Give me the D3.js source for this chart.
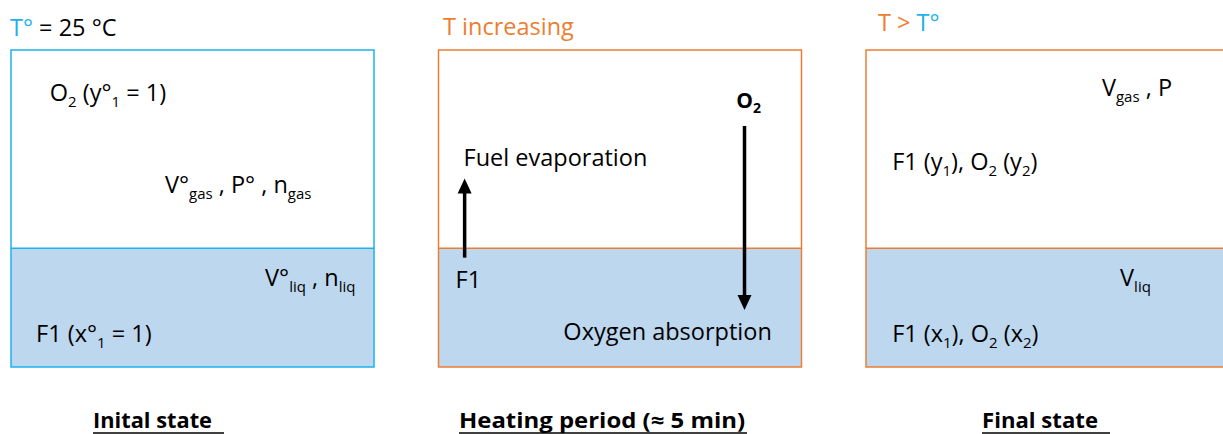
<!DOCTYPE html>
<html>
<head>
<meta charset="utf-8">
<script src="https://cdn.jsdelivr.net/npm/d3@7"></script>
<style>
  body { margin: 0; background: #fff; }
  text { font-family: "Open Sans", Lato, sans-serif; fill: #000; }
</style>
</head>
<body>
<script>
const WIDTH = 1223
const HEIGHT = 434
const BLUE = '#1CB2EE'
const ORANGE = '#ED7D31'
const LIQUID = '#BDD7EE'

// three panels of the experiment
const panelTitles = ['Inital state', 'Heating period (≈ 5 min)', 'Final state']
const panelBorders = [BLUE, ORANGE, ORANGE]
// temperature header, as [text, colour] runs
const headers = [
  [['T°', BLUE], [' = 25 °C', '#000']],
  [['T increasing', ORANGE]],
  [['T > ', ORANGE], ['T°', BLUE]]
]
// level of the liquid, as a share of the vessel height
const liquidShare = 0.375

// labels: panel, x and y in vessel units (0..1), runs of [text, 'n' | 's'] (s = subscript)
const labels = [
  [0, 0.107, 0.16, [['O', 'n'], ['2', 's'], [' (y°', 'n'], ['1', 's'], [' = 1)', 'n']]],
  [0, 0.424, 0.45, [['V°', 'n'], ['gas', 's'], [' , P° , n', 'n'], ['gas', 's']]],
  [0, 0.70, 0.745, [['V°', 'n'], ['liq', 's'], [' , n', 'n'], ['liq', 's']]],
  [0, 0.069, 0.92, [['F1 (x°', 'n'], ['1', 's'], [' = 1)', 'n']]],
  [1, 0.069, 0.365, [['Fuel evaporation', 'n']]],
  [1, 0.047, 0.75, [['F1', 'n']]],
  [1, 0.344, 0.915, [['Oxygen absorption', 'n']]],
  [2, 0.072, 0.38, [['F1 (y', 'n'], ['1', 's'], ['), O', 'n'], ['2', 's'], [' (y', 'n'], ['2', 's'], [')', 'n']]],
  [2, 0.072, 0.92, [['F1 (x', 'n'], ['1', 's'], ['), O', 'n'], ['2', 's'], [' (x', 'n'], ['2', 's'], [')', 'n']]],
  [2, 0.65, 0.145, [['V', 'n'], ['gas', 's'], [' , P', 'n']]],
  [2, 0.70, 0.745, [['V', 'n'], ['liq', 's']]]
]

// arrows in the heating panel: x, from y, to y (vessel units)
const arrows = [
  [0.072, 0.655, 0.405],
  [0.843, 0.24, 0.82]
]

const svg = d3.select('body').append('svg')
  .attr('width', WIDTH)
  .attr('height', HEIGHT)

const x = d3.scaleLinear().domain([0, 2]).range([11, 866])
const bw = 363
const vy = d3.scaleLinear().domain([0, 1]).range([50, 367])
const vx = (p, u) => x(p) + u * bw
const FS = 23.5
const SUB = 15

const panel = svg.selectAll('g.panel')
  .data(panelTitles)
  .enter().append('g').attr('class', 'panel')

panel.append('rect')
  .attr('x', (d, i) => x(i))
  .attr('y', vy(1 - liquidShare))
  .attr('width', bw)
  .attr('height', vy(1) - vy(1 - liquidShare))
  .attr('fill', LIQUID)

panel.append('rect')
  .attr('x', (d, i) => x(i))
  .attr('y', vy(0))
  .attr('width', bw)
  .attr('height', vy(1) - vy(0))
  .attr('fill', 'none')
  .attr('stroke', (d, i) => panelBorders[i])
  .attr('stroke-width', 1.5)

panel.append('line')
  .attr('x1', (d, i) => x(i))
  .attr('x2', (d, i) => x(i) + bw)
  .attr('y1', vy(1 - liquidShare))
  .attr('y2', vy(1 - liquidShare))
  .attr('stroke', (d, i) => panelBorders[i])
  .attr('stroke-width', 1.5)

// headers
const headerX = [10, 443, 878]
const headerY = [36, 35, 31]
headers.forEach((runs, i) => {
  const t = svg.append('text')
    .attr('x', headerX[i])
    .attr('y', headerY[i])
    .attr('font-size', FS)
    .attr('xml:space', 'preserve')
  runs.forEach(r => t.append('tspan').text(r[0]).style('fill', r[1]))
})

// labels with subscripts
labels.forEach(([p, ux, uy, runs]) => {
  const t = svg.append('text')
    .attr('x', vx(p, ux))
    .attr('y', vy(uy))
    .attr('font-size', FS)
    .attr('xml:space', 'preserve')
  let down = false
  runs.forEach(([s, k]) => {
    const ts = t.append('tspan').text(s)
    if (k === 's' && !down) { ts.attr('dy', 6).attr('font-size', SUB); down = true }
    else if (k === 's') ts.attr('font-size', SUB)
    else if (down) { ts.attr('dy', -6); down = false }
  })
})

// O2 above the absorption arrow
const o2 = svg.append('text')
  .attr('x', vx(1, 0.82))
  .attr('y', vy(0.183))
  .attr('font-size', 21)
  .attr('font-weight', 'bold')
o2.append('tspan').text('O')
o2.append('tspan').text('2').attr('dy', 5).attr('font-size', 14)

// arrows: shaft plus filled head
const arrow = svg.selectAll('g.arrow')
  .data(arrows)
  .enter().append('g').attr('class', 'arrow')

arrow.append('line')
  .attr('x1', d => vx(1, d[0]))
  .attr('x2', d => vx(1, d[0]))
  .attr('y1', d => vy(d[1]))
  .attr('y2', d => vy(d[2]) + (d[2] < d[1] ? 10 : -10))
  .attr('stroke', '#000')
  .attr('stroke-width', 3.5)

arrow.append('path')
  .attr('d', d => {
    const cx = vx(1, d[0]), ty = vy(d[2])
    const s = d[2] < d[1] ? 1 : -1
    return `M${cx},${ty} L${cx - 7},${ty + 15 * s} L${cx + 7},${ty + 15 * s} Z`
  })
  .attr('fill', '#000')

// underlined bold titles under each vessel
const titleX = [93, 459, 982]
const titleW = [119, 286, 116]
panelTitles.forEach((s, i) => {
  svg.append('text')
    .attr('x', titleX[i])
    .attr('y', 428)
    .attr('font-size', 21)
    .attr('font-weight', 'bold')
    .attr('textLength', titleW[i])
    .attr('lengthAdjust', 'spacingAndGlyphs')
    .text(s)
  svg.append('line')
    .attr('x1', titleX[i]).attr('x2', titleX[i] + titleW[i] + (i === 1 ? 2 : 12))
    .attr('y1', 433).attr('y2', 433)
    .attr('stroke', '#000').attr('stroke-width', 1.5)
})
</script>
</body>
</html>
